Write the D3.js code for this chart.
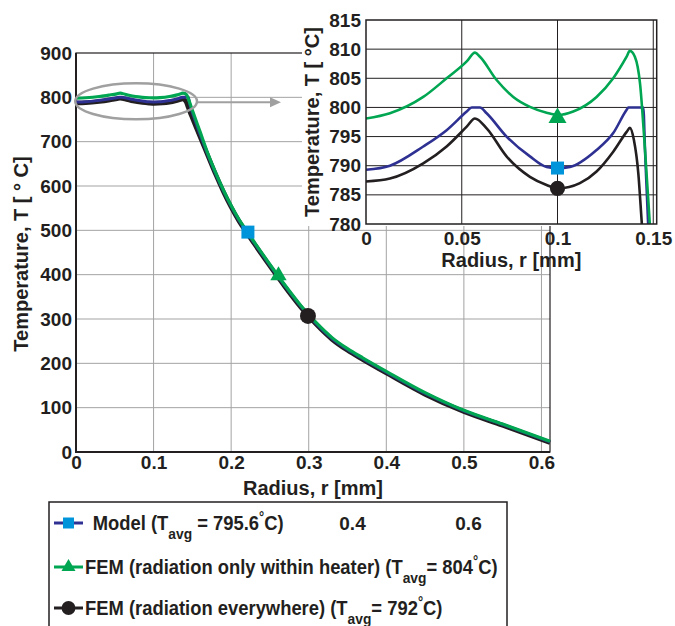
<!DOCTYPE html>
<html lang="en">
<head>
<meta charset="UTF-8">
<title>Temperature vs radius</title>
<style>
  body { margin: 0; background: #fff; }
  svg { display: block; font-family: Arial, "Liberation Sans", sans-serif; font-weight: bold; }
</style>
</head>
<body>
<div id="chart"></div>
<script src="https://d3js.org/d3.v7.min.js"></script>
<script>
// [radius mm, temperature °C]
const modelPts = [
  [0, 789.3], [0.0125, 790.0], [0.0299, 793.3], [0.0421, 796.1], [0.0526, 799.3], [0.0552, 800.0],
  [0.0595, 800.0], [0.0630, 799.0], [0.0734, 795.0], [0.0856, 791.6], [0.0943, 789.8], [0.1004, 789.6],
  [0.1065, 789.8], [0.1204, 792.7], [0.1291, 795.6], [0.1361, 799.6], [0.1370, 800.0], [0.1448, 800.0],
  [0.1457, 792.7], [0.1474, 779.5], [0.15, 766], [0.16, 716], [0.17, 670], [0.18, 628], [0.19, 589],
  [0.20, 554], [0.21, 523], [0.22, 496.5], [0.23, 471], [0.25, 421], [0.27, 373], [0.29, 328],
  [0.31, 289], [0.33, 256], [0.35, 231], [0.37, 210], [0.40, 180], [0.45, 132], [0.50, 93],
  [0.55, 62], [0.611, 23]
]
const femHeaterPts = [
  [0, 798.1], [0.0125, 799.0], [0.0299, 801.8], [0.0421, 805.0], [0.0526, 807.9], [0.0569, 809.4],
  [0.0595, 808.7], [0.0682, 804.7], [0.0769, 801.8], [0.0856, 800.1], [0.0943, 799.1], [0.1004, 798.7],
  [0.1082, 799.3], [0.1204, 801.8], [0.1291, 805.0], [0.1361, 808.7], [0.1378, 809.7], [0.1404, 808.7],
  [0.1431, 804.1], [0.1457, 792.7], [0.1483, 779.5], [0.15, 771], [0.16, 722], [0.17, 673], [0.18, 630],
  [0.19, 591], [0.20, 556], [0.21, 525], [0.22, 498.5], [0.23, 473], [0.25, 423], [0.27, 375],
  [0.29, 330], [0.31, 291], [0.33, 258], [0.35, 233], [0.37, 212], [0.40, 182], [0.45, 134],
  [0.50, 94], [0.55, 63], [0.611, 24]
]
const femAllPts = [
  [0, 787.3], [0.0125, 787.8], [0.0299, 790.4], [0.0421, 793.3], [0.0526, 796.7], [0.0569, 798.1],
  [0.0630, 796.4], [0.0734, 791.6], [0.0856, 788.1], [0.0943, 786.7], [0.1004, 786.1], [0.1117, 787.0],
  [0.1204, 789.0], [0.1291, 792.4], [0.1361, 795.8], [0.1378, 796.5], [0.1399, 794.4], [0.1422, 788.7],
  [0.1439, 780.7], [0.1465, 768], [0.15, 753], [0.16, 710], [0.17, 668], [0.18, 626], [0.19, 587],
  [0.20, 552], [0.21, 521], [0.22, 494.5], [0.23, 469], [0.25, 419], [0.27, 371], [0.29, 326],
  [0.31, 287], [0.33, 254], [0.35, 229], [0.37, 208], [0.40, 178], [0.45, 130], [0.50, 91],
  [0.55, 60], [0.611, 21]
]

// marker positions on the main plot and on the zoomed inset (model, heater, everywhere)
const mainMarkers = [[0.2216, 496], [0.261, 398], [0.299, 307]]
const insetMarkers = [[0.1, 789.6], [0.1, 798.2], [0.1, 786.1]]

const xTicks = [0, 0.1, 0.2, 0.3, 0.4, 0.5, 0.6]
const xTickLabels = ['0', '0.1', '0.2', '0.3', '0.4', '0.5', '0.6']
const yTicks = [0, 100, 200, 300, 400, 500, 600, 700, 800, 900]
const insetXTicks = [0, 0.05, 0.1, 0.15]
const insetXTickLabels = ['0', '0.05', '0.1', '0.15']
const insetYTicks = [780, 785, 790, 795, 800, 805, 810, 815]

const legendNames = ['Model (T', 'FEM (radiation only within heater) (T', 'FEM (radiation everywhere) (T']
const legendAvg = [' = 795.6', '= 804', '= 792']
const strayLabels = ['0.4', '0.6']

const blueLine = '#2e3192'
const blueMark = '#0095da'
const green = '#00a651'
const black = '#231f20'
const gridGray = '#a3a3a3'

const series = [
  { pts: femAllPts, line: black, mark: black, w: 4.5, sym: d3.symbolCircle, sMain: 200, sIn: 180, sLeg: 150 },
  { pts: modelPts, line: blueLine, mark: blueMark, w: 3, sym: d3.symbolSquare, sMain: 169, sIn: 169, sLeg: 121 },
  { pts: femHeaterPts, line: green, mark: green, w: 3.2, sym: d3.symbolTriangle, sMain: 115, sIn: 140, sLeg: 85 }
]
// legend order: model, heater, everywhere
const legendOrder = [1, 2, 0]

const width = 675
const height = 626

const svg = d3.select('#chart').append('svg')
  .attr('width', width)
  .attr('height', height)

// ---------- main plot ----------
const x = d3.scaleLinear().domain([0, 0.611]).range([76, 550])
const y = d3.scaleLinear().domain([0, 900]).range([452, 53])

const main = svg.append('g')

main.append('g')
  .attr('stroke', gridGray)
  .attr('stroke-width', 1)
  .call(g => {
    g.selectAll('.vg').data(xTicks.slice(1)).enter().append('line')
      .attr('x1', d => x(d)).attr('x2', d => x(d))
      .attr('y1', y(0)).attr('y2', y(900))
    g.selectAll('.hg').data(yTicks.slice(1, -1)).enter().append('line')
      .attr('x1', x(0)).attr('x2', x(0.611))
      .attr('y1', d => y(d)).attr('y2', d => y(d))
  })

main.append('rect')
  .attr('x', x(0)).attr('y', y(900))
  .attr('width', x(0.611) - x(0)).attr('height', y(0) - y(900))
  .attr('fill', 'none').attr('stroke', black).attr('stroke-width', 1.2)
main.append('path')
  .attr('d', `M${x(0)},${y(900)}V${y(0)}H${x(0.611)}`)
  .attr('fill', 'none').attr('stroke', black).attr('stroke-width', 2)

const mainLine = d3.line()
  .x(d => x(d[0]))
  .y(d => y(d[1]))
  .curve(d3.curveMonotoneX)

series.forEach(s => {
  main.append('path')
    .attr('d', mainLine(s.pts))
    .attr('fill', 'none')
    .attr('stroke', s.line)
    .attr('stroke-width', s.w)
    .attr('stroke-linejoin', 'round')
})

series.forEach((s, i) => {
  const m = mainMarkers[legendOrder.indexOf(i)]
  main.append('path')
    .attr('d', d3.symbol(s.sym, s.sMain)())
    .attr('transform', `translate(${x(m[0])},${y(m[1])})`)
    .attr('fill', s.mark)
})

// zoom ellipse and arrow
const ex0 = x(-0.001), ex1 = x(0.156)
main.append('ellipse')
  .attr('cx', (ex0 + ex1) / 2).attr('cy', y(791))
  .attr('rx', (ex1 - ex0) / 2).attr('ry', 18)
  .attr('fill', 'none').attr('stroke', '#a0a0a0').attr('stroke-width', 2.5)
main.append('line')
  .attr('x1', ex1).attr('x2', 272)
  .attr('y1', y(789)).attr('y2', y(789))
  .attr('stroke', '#a0a0a0').attr('stroke-width', 2)
main.append('path')
  .attr('d', `M270,${y(789) - 5}L281,${y(789)}L270,${y(789) + 5}Z`)
  .attr('fill', '#a0a0a0')

// axes labels
const yAxis = d3.axisLeft(y).tickValues(yTicks).tickSize(0).tickPadding(4)
main.append('g')
  .attr('transform', `translate(${x(0)},0)`)
  .call(yAxis)
  .call(g => g.select('.domain').remove())
  .call(g => g.selectAll('text').attr('font-size', 19).attr('font-family', null).attr('fill', black))

const xAxis = d3.axisBottom(x).tickValues(xTicks).tickSize(0).tickPadding(3)
  .tickFormat((d, i) => xTickLabels[i])
main.append('g')
  .attr('transform', `translate(0,${y(0)})`)
  .call(xAxis)
  .call(g => g.select('.domain').remove())
  .call(g => g.selectAll('text').attr('font-size', 19).attr('font-family', null).attr('fill', black))

main.append('text')
  .attr('x', (x(0) + x(0.611)) / 2).attr('y', 495)
  .attr('text-anchor', 'middle').attr('font-size', 20).attr('fill', black)
  .text('Radius, r [mm]')

main.append('text')
  .attr('transform', 'translate(28,254) rotate(-90)')
  .attr('text-anchor', 'middle').attr('font-size', 20).attr('fill', black)
  .text('Temperature, T [ ° C]')

// ---------- inset ----------
svg.append('rect')
  .attr('x', 302).attr('y', 0).attr('width', width - 302).attr('height', 226)
  .attr('fill', '#fff')

const xi = d3.scaleLinear().domain([0, 0.1518]).range([366, 656.7])
const yi = d3.scaleLinear().domain([780, 815]).range([224, 20])

const inset = svg.append('g')

inset.append('defs').append('clipPath').attr('id', 'inset-clip')
  .append('rect')
  .attr('x', xi(0)).attr('y', yi(815))
  .attr('width', xi(0.1518) - xi(0)).attr('height', yi(780) - yi(815))

inset.append('g')
  .attr('stroke', black)
  .attr('stroke-width', 1)
  .call(g => {
    g.selectAll('.vg').data(insetXTicks.slice(1)).enter().append('line')
      .attr('x1', d => xi(d)).attr('x2', d => xi(d))
      .attr('y1', yi(780)).attr('y2', yi(815))
    g.selectAll('.hg').data(insetYTicks.slice(1, -1)).enter().append('line')
      .attr('x1', xi(0)).attr('x2', xi(0.1518))
      .attr('y1', d => yi(d)).attr('y2', d => yi(d))
  })

const insetLine = d3.line()
  .x(d => xi(d[0]))
  .y(d => yi(d[1]))
  .curve(d3.curveMonotoneX)

const curves = inset.append('g').attr('clip-path', 'url(#inset-clip)')
series.forEach(s => {
  curves.append('path')
    .attr('d', insetLine(s.pts))
    .attr('fill', 'none')
    .attr('stroke', s.line)
    .attr('stroke-width', 2.6)
    .attr('stroke-linejoin', 'round')
})

series.forEach((s, i) => {
  const m = insetMarkers[legendOrder.indexOf(i)]
  inset.append('path')
    .attr('d', d3.symbol(s.sym, s.sIn)())
    .attr('transform', `translate(${xi(m[0])},${yi(m[1])})`)
    .attr('fill', s.mark)
})

inset.append('rect')
  .attr('x', xi(0)).attr('y', yi(815))
  .attr('width', xi(0.1518) - xi(0)).attr('height', yi(780) - yi(815))
  .attr('fill', 'none').attr('stroke', black).attr('stroke-width', 1.5)

inset.append('g')
  .attr('transform', `translate(${xi(0)},0)`)
  .call(d3.axisLeft(yi).tickValues(insetYTicks).tickSize(0).tickPadding(5))
  .call(g => g.select('.domain').remove())
  .call(g => g.selectAll('text').attr('font-size', 19).attr('font-family', null).attr('fill', black))

inset.append('g')
  .attr('transform', `translate(0,${yi(780)})`)
  .call(d3.axisBottom(xi).tickValues(insetXTicks).tickSize(0).tickPadding(8)
    .tickFormat((d, i) => insetXTickLabels[i]))
  .call(g => g.select('.domain').remove())
  .call(g => g.selectAll('text').attr('font-size', 19).attr('font-family', null).attr('fill', black))

inset.append('text')
  .attr('x', (xi(0) + xi(0.1518)) / 2).attr('y', 267)
  .attr('text-anchor', 'middle').attr('font-size', 20).attr('fill', black)
  .text('Radius, r [mm]')

inset.append('text')
  .attr('transform', `translate(319,${(yi(780) + yi(815)) / 2}) rotate(-90)`)
  .attr('text-anchor', 'middle').attr('font-size', 20).attr('fill', black)
  .text('Temperature, T [ °C]')

// ---------- legend ----------
const legend = svg.append('g')
legend.append('rect')
  .attr('x', 49).attr('y', 502).attr('width', 458).attr('height', 160)
  .attr('fill', '#fff').attr('stroke', black).attr('stroke-width', 1.5)

const rowY = [523, 567, 608]
const textX = [92.7, 85, 85]

legendOrder.forEach((si, row) => {
  const s = series[si]
  const cy = rowY[row]
  legend.append('line')
    .attr('x1', 54).attr('x2', 83).attr('y1', cy).attr('y2', cy)
    .attr('stroke', s.line).attr('stroke-width', 3)
  legend.append('path')
    .attr('d', d3.symbol(s.sym, s.sLeg)())
    .attr('transform', `translate(68.5,${cy})`)
    .attr('fill', s.mark)

  const t = legend.append('text')
    .attr('transform', `translate(${textX[row]},${cy + 7}) scale(0.92,1)`)
    .attr('font-size', 20).attr('fill', black)
  t.append('tspan').text(legendNames[row])
  t.append('tspan').attr('font-size', 15).attr('dy', 9).text('avg')
  t.append('tspan').attr('dy', -9).text(legendAvg[row])
  t.append('tspan').attr('font-size', 14).attr('dy', -8).text('°')
  t.append('tspan').attr('dy', 8).text('C)')
})

legend.selectAll('.stray').data(strayLabels).enter().append('text')
  .attr('x', (d, i) => [352.5, 468.5][i]).attr('y', 530)
  .attr('text-anchor', 'middle').attr('font-size', 19).attr('fill', black)
  .text(d => d)
</script>
</body>
</html>
